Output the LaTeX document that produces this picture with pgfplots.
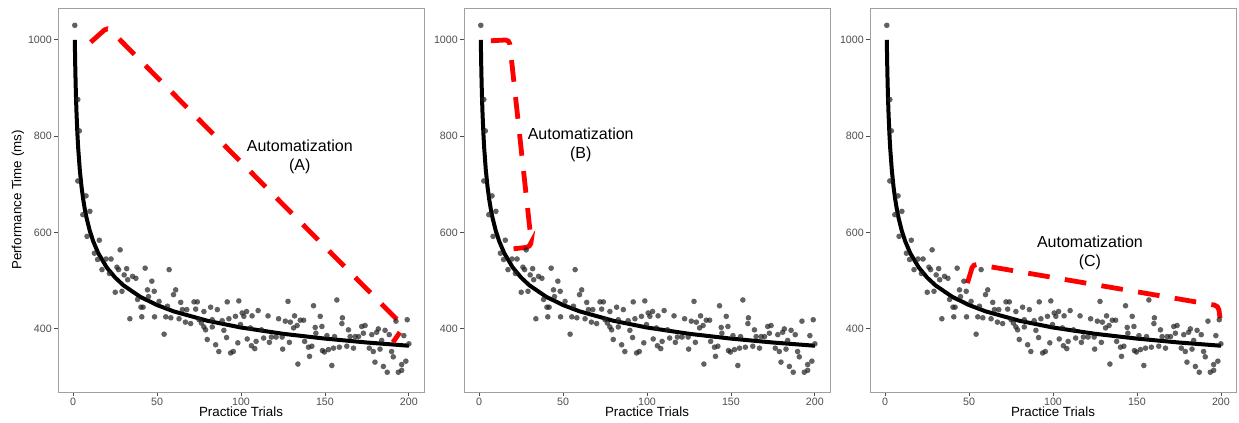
\documentclass[border=0pt]{standalone}
\usepackage{fontspec}
\setmainfont{Liberation Sans}
\usepackage{pgfplots}
\pgfplotsset{compat=1.18}
\usepackage{pgfplotstable}
\definecolor{tickgray}{RGB}{77,77,77}
\definecolor{framegray}{RGB}{160,160,160}
\definecolor{ptgray}{RGB}{30,30,30}

\pgfplotstableread{
x y
1 1030
2.8 876
3.7 811
2.8 707
7.7 676
5.8 637
10 644
8.3 592
15.6 584
12.7 557
14.6 544
28 564
19.6 545
22.6 545
17.2 523
21.6 515
26.1 528
27.1 523
31.9 525
42.9 526
30.4 512
35.4 509
37.4 505
32.5 502
25.1 476
29.1 478
46.9 499
44.3 481
38.4 461
44.9 467
40.4 445
41.7 445
33.8 421
40.9 425
48.5 425
57.2 523
48.3 478
61.1 481
59.8 471
51.2 457
64.1 455
72 456
74 456
91.8 456
98.7 458
56.2 447
81.9 445
65.1 440
67.7 440
73 441
77.9 436
85.9 440
100.7 433
103.3 436
55.2 425
58.2 423
63.1 421
66.9 414
70 411
75 419
76.4 412
82.9 419
88.8 417
92.8 421
96.7 426
101.7 426
77.9 404
82.9 404
78.9 398
89.8 397
99.7 409
54.2 389
79.9 378
91.4 382
84.9 367
86.8 353
93.8 350
95.4 353
98.1 371
103.7 379
128 457
143.2 448
157.1 460
110.2 438
106.6 427
116.1 427
122.4 421
131.9 427
147.2 426
160.4 423
126.4 416
129.4 414
135.3 418
137.3 418
133.4 407
131.3 402
112.2 398
144.2 403
148.2 405
160.1 411
105.6 402
113.5 381
118.1 383
120.9 383
124.5 383
144.6 391
151.2 386
155.7 384
109 374
116.9 372
128.8 372
137.9 374
106.2 365
108.2 359
124.8 358
140.2 362
142.2 364
148.5 355
149.7 352
152.1 357
155.1 360
158.6 362
140.8 343
133.9 327
154.1 324
164 398
171.9 405
173.9 407
181.8 400
185.8 397
192.3 416
199 419
177.9 388
180.8 393
165 384
168 384
170 384
172.9 391
188.3 388
197 386
200 369
183.8 376
163 364
167 360
176.4 360
178.8 353
182.8 358
189.7 353
190.7 342
195.7 326
198.2 333
179.8 331
184.8 322
187.1 310
193.7 310
195.7 314
}\points

\pgfplotstableread{
x y
1 1000
1.25 948.6
1.5 909
1.75 877.1
2 850.7
2.5 808.8
3 776.6
4 729.3
5 695.2
6 669.1
7 648.0
8 630.5
10 602.8
12 581.5
15 557.0
20 527.6
25 506.6
30 490.3
40 466.5
50 449.4
60 436.2
80 416.8
100 402.8
125 389.8
150 379.8
175 371.7
200 365.0
}\curve

\pgfplotsset{
  panel/.style={
    scale only axis, width=274.5pt, height=288pt,
    xmin=-9, xmax=209, ymin=269, ymax=1066,
    axis line style={framegray, line width=0.7pt},
    xtick={0,50,100,150,200}, ytick={400,600,800,1000},
    xtick pos=lower, ytick pos=left,
    tick align=outside, major tick length=3pt,
    tick style={tickgray, line width=0.6pt},
    ticklabel style={font=\fontsize{8}{9}\selectfont, text=tickgray, inner sep=1.5pt},
    /pgf/number format/assume math mode=true,
    /pgf/number format/1000 sep={},
    xlabel={Practice Trials},
    xlabel style={font=\fontsize{10}{12}\selectfont, at={(axis description cs:0.5,0)}, anchor=center, yshift=-14.5pt},
    ylabel style={font=\fontsize{10}{12}\selectfont, at={(axis description cs:-0.1093,0.5)}, anchor=center},
  },
  pts/.style={only marks, mark=*, mark size=2.1pt, color=ptgray, mark options={line width=0pt, draw opacity=0, fill=ptgray, fill opacity=0.7}},
  fitcurve/.style={black, line width=3pt, line join=round},
  redauto/.style={red, line width=3.6pt, rounded corners=3pt},
}
\tikzset{lab/.style={font=\fontsize{12}{14}\selectfont, align=center, text=black}}

\begin{document}
\begin{tikzpicture}
\useasboundingbox (0,0) rectangle (929.25pt,317.25pt);
\begin{axis}[panel, at={(43.5pt,23.25pt)}, anchor=south west, ylabel={Performance Time (ms)}]
\addplot[pts] table {\points};
\addplot[fitcurve] table {\curve};
\addplot[redauto, dash pattern=on 16.3pt off 11.66pt] coordinates {(10.5,995) (20.5,1026) (197,405) (190.5,372)};
\node[lab] at (axis cs:135,757) {Automatization\\(A)};
\end{axis}
\begin{axis}[panel, at={(348pt,23.25pt)}, anchor=south west]
\addplot[pts] table {\points};
\addplot[fitcurve] table {\curve};
\addplot[redauto, dash pattern=on 16.3pt off 11.6pt] coordinates {(7,998) (18,1000) (31,582) (30.5,570) (20,566)};
\node[lab] at (axis cs:60.5,782) {Automatization\\(B)};
\end{axis}
\begin{axis}[panel, at={(652.5pt,23.25pt)}, anchor=south west]
\addplot[pts] table {\points};
\addplot[fitcurve] table {\curve};
\addplot[redauto, dash pattern=on 16.3pt off 11.56pt] coordinates {(49,495) (52.5,535) (198.5,448) (199.5,422)};
\node[lab] at (axis cs:122,558) {Automatization\\(C)};
\end{axis}
\end{tikzpicture}
\end{document}
